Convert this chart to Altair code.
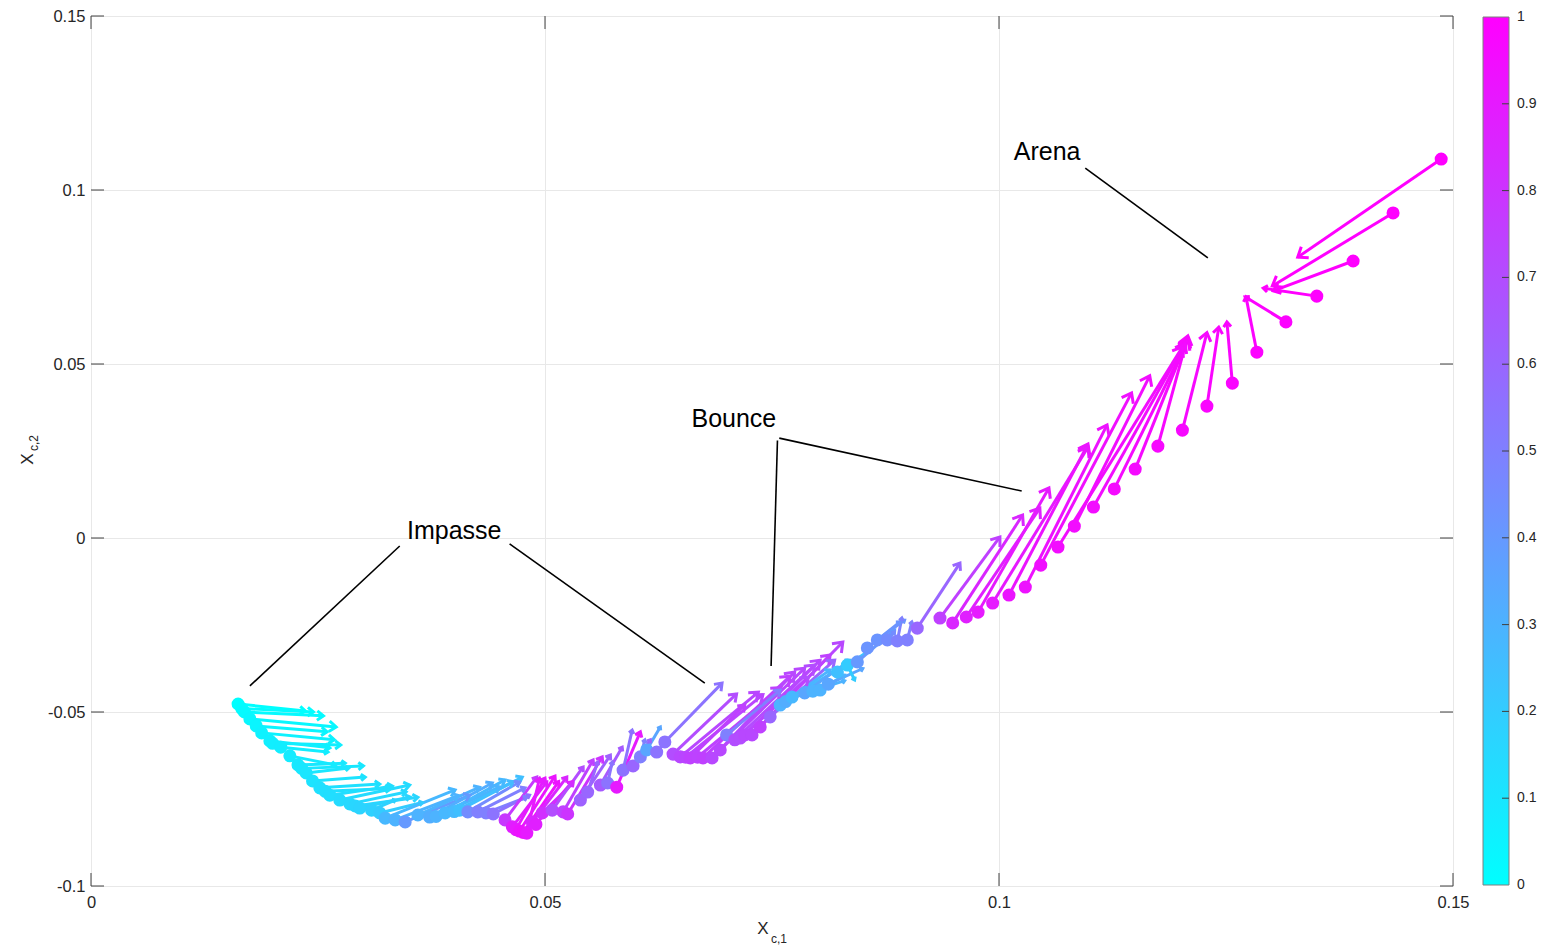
import altair as alt
import pandas as pd

# ---- quiver data (start point, arrow end, colour value) ----
x0 = [0.0162, 0.0166, 0.0169, 0.0175, 0.0182, 0.0188, 0.0197, 0.0200, 0.0209, 0.0219,
      0.0228, 0.0232, 0.0237, 0.0244, 0.0252, 0.0258, 0.0263, 0.0274, 0.0285, 0.0291,
      0.0296, 0.0309, 0.0318,
      0.0324, 0.0335, 0.0346, 0.0360, 0.0373, 0.0380, 0.0390, 0.0400, 0.0406, 0.0415,
      0.0426, 0.0435, 0.0443, 0.0456, 0.0464, 0.0468, 0.0472, 0.0476, 0.0480, 0.0486,
      0.0490, 0.0497, 0.0508, 0.0520, 0.0525, 0.0539, 0.0547, 0.0561, 0.0569, 0.0579,
      0.0586, 0.0597, 0.0605, 0.0612, 0.0623, 0.0632, 0.0641, 0.0649, 0.0655, 0.0660,
      0.0668, 0.0674, 0.0684, 0.0693, 0.0700, 0.0709, 0.0715, 0.0720, 0.0728, 0.0737,
      0.0748,
      0.0759, 0.0765, 0.0772, 0.0786, 0.0795, 0.0803, 0.0812, 0.0822, 0.0833, 0.0844,
      0.0855, 0.0866, 0.0877, 0.0888, 0.0899, 0.0910, 0.0935, 0.0949, 0.0964, 0.0977,
      0.0993, 0.1011, 0.1029, 0.1046, 0.1065, 0.1083, 0.1104, 0.1127, 0.1150, 0.1175,
      0.1202, 0.1229, 0.1257, 0.1284, 0.1316, 0.1350, 0.1390, 0.1434, 0.1487]
y0 = [-0.0477, -0.0490, -0.0500, -0.0520, -0.0540, -0.0560, -0.0583, -0.0590, -0.0601, -0.0626,
      -0.0652, -0.0662, -0.0675, -0.0698, -0.0718, -0.0728, -0.0739, -0.0753, -0.0764, -0.0770,
      -0.0776, -0.0782, -0.0790,
      -0.0805, -0.0810, -0.0816, -0.0796, -0.0802, -0.0800, -0.0790, -0.0786, -0.0782, -0.0787,
      -0.0787, -0.0790, -0.0793, -0.0810, -0.0830, -0.0838, -0.0842, -0.0846, -0.0848, -0.0816,
      -0.0823, -0.0790, -0.0782, -0.0787, -0.0793, -0.0753, -0.0730, -0.0710, -0.0704, -0.0716,
      -0.0667, -0.0655, -0.0629, -0.0609, -0.0615, -0.0586, -0.0621, -0.0629, -0.0630, -0.0632,
      -0.0630, -0.0632, -0.0632, -0.0609, -0.0566, -0.0580, -0.0575, -0.0566, -0.0566, -0.0543,
      -0.0514,
      -0.0480, -0.0470, -0.0457, -0.0445, -0.0440, -0.0437, -0.0420, -0.0385, -0.0365, -0.0356,
      -0.0316, -0.0293, -0.0293, -0.0296, -0.0293, -0.0259, -0.0230, -0.0244, -0.0227, -0.0213,
      -0.0187, -0.0164, -0.0141, -0.0078, -0.0026, 0.0034, 0.0089, 0.0141, 0.0198, 0.0264,
      0.0310, 0.0379, 0.0445, 0.0534, 0.0621, 0.0695, 0.0796, 0.0934, 0.1089]
x1 = [0.0236, 0.0245, 0.0256, 0.0270, 0.0260, 0.0268, 0.0263, 0.0275, 0.0261, 0.0269,
      0.0280, 0.0300, 0.0284, 0.0302, 0.0318, 0.0330, 0.0332, 0.0351, 0.0347, 0.0360,
      0.0351, 0.0335, 0.0365,
      0.0401, 0.0405, 0.0417, 0.0428, 0.0442, 0.0450, 0.0456, 0.0465, 0.0475, 0.0472,
      0.0478, 0.0480, 0.0483, 0.0491, 0.0502, 0.0500, 0.0511, 0.0515, 0.0494, 0.0524,
      0.0530, 0.0531, 0.0542, 0.0553, 0.0563, 0.0572, 0.0558, 0.0585, 0.0574, 0.0605,
      0.0596, 0.0616, 0.0610, 0.0627, 0.0635, 0.0695, 0.0711, 0.0735, 0.0740, 0.0720,
      0.0760, 0.0770, 0.0775, 0.0786, 0.0759, 0.0797, 0.0790, 0.0803, 0.0828, 0.0814,
      0.0819,
      0.0814, 0.0800, 0.0825, 0.0836, 0.0830, 0.0830, 0.0850, 0.0858, 0.0841, 0.0885,
      0.0891, 0.0896, 0.0885, 0.0893, 0.0904, 0.0957, 0.1001, 0.1026, 0.1045, 0.1055,
      0.1098, 0.1098, 0.1119, 0.1146, 0.1202, 0.1166, 0.1205, 0.1208, 0.1208, 0.1208,
      0.1229, 0.1242, 0.1251, 0.1272, 0.1271, 0.1291, 0.1302, 0.1301, 0.1329]
y1 = [-0.0497, -0.0500, -0.0511, -0.0543, -0.0557, -0.0580, -0.0603, -0.0595, -0.0615, -0.0652,
      -0.0647, -0.0655, -0.0661, -0.0687, -0.0707, -0.0720, -0.0713, -0.0710, -0.0730, -0.0745,
      -0.0744, -0.0753, -0.0760,
      -0.0724, -0.0740, -0.0739, -0.0716, -0.0704, -0.0715, -0.0695, -0.0700, -0.0687, -0.0701,
      -0.0718, -0.0745, -0.0739, -0.0687, -0.0701, -0.0690, -0.0684, -0.0700, -0.0690, -0.0687,
      -0.0700, -0.0704, -0.0658, -0.0638, -0.0629, -0.0624, -0.0644, -0.0601, -0.0644, -0.0557,
      -0.0552, -0.0580, -0.0580, -0.0543, -0.0580, -0.0417, -0.0448, -0.0443, -0.0450, -0.0480,
      -0.0430, -0.0397, -0.0385, -0.0374, -0.0437, -0.0365, -0.0400, -0.0351, -0.0299, -0.0336,
      -0.0351,
      -0.0379, -0.0430, -0.0374, -0.0351, -0.0410, -0.0394, -0.0375, -0.0322, -0.0408, -0.0264,
      -0.0241, -0.0236, -0.0270, -0.0230, -0.0241, -0.0072, 0.0003, 0.0066, 0.0086, 0.0144,
      0.0261, 0.0270, 0.0325, 0.0417, 0.0549, 0.0466, 0.0560, 0.0569, 0.0575, 0.0581,
      0.0590, 0.0606, 0.0621, 0.0693, 0.0693, 0.0718, 0.0710, 0.0724, 0.0807]
cval = [0.00, 0.01, 0.02, 0.03, 0.04, 0.05, 0.06, 0.065, 0.07, 0.08,
        0.09, 0.095, 0.10, 0.11, 0.12, 0.125, 0.13, 0.14, 0.15, 0.16,
        0.17, 0.18, 0.20,
        0.28, 0.30, 0.40, 0.30, 0.32, 0.30, 0.28, 0.27, 0.25, 0.45,
        0.50, 0.50, 0.55, 0.78, 0.88, 0.90, 0.92, 0.93, 0.90, 0.85,
        0.88, 0.82, 0.70, 0.75, 0.80, 0.62, 0.60, 0.65, 0.55, 0.90,
        0.55, 0.60, 0.50, 0.35, 0.55, 0.55, 0.70, 0.72, 0.73, 0.75,
        0.74, 0.75, 0.72, 0.72, 0.50, 0.70, 0.70, 0.72, 0.72, 0.75,
        0.60,
        0.30, 0.32, 0.28, 0.35, 0.30, 0.30, 0.35, 0.25, 0.20, 0.40,
        0.42, 0.42, 0.45, 0.50, 0.50, 0.60, 0.75, 0.85, 0.88, 0.90,
        0.90, 0.92, 0.93, 0.94, 0.95, 0.95, 0.95, 0.96, 0.96, 0.97,
        0.97, 0.98, 0.98, 0.99, 0.99, 1.00, 1.00, 1.00, 1.00]

# ---- annotations ----
ann_text = ["Arena", "Bounce", "Impasse"]
ann_tx = [0.1053, 0.0708, 0.0400]
ann_ty = [0.1109, 0.0342, 0.0020]
line_x0 = [0.1095, 0.0758, 0.0756, 0.0340, 0.0461]
line_y0 = [0.1063, 0.0287, 0.0280, -0.0023, -0.0017]
line_x1 = [0.1230, 0.1025, 0.0749, 0.0175, 0.0676]
line_y1 = [0.0805, 0.0135, -0.0368, -0.0425, -0.0417]

x_ticks = [0, 0.05, 0.1, 0.15]
y_ticks = [-0.1, -0.05, 0, 0.05, 0.1, 0.15]
c_ticks = [0, 0.1, 0.2, 0.3, 0.4, 0.5, 0.6, 0.7, 0.8, 0.9, 1]

W, H = 1362, 870
XD = [0, 0.15]
YD = [-0.1, 0.15]
FONT = "Liberation Sans"
C0, C1 = "#00ffff", "#ff00ff"

df = pd.DataFrame({"x0": x0, "y0": y0, "x1": x1, "y1": y1, "c": cval})
ann = pd.DataFrame({"t": ann_text, "x": ann_tx, "y": ann_ty})
lines = pd.DataFrame({"x0": line_x0, "y0": line_y0, "x1": line_x1, "y1": line_y1})

xs = alt.Scale(domain=XD, nice=False, zero=False)
ys = alt.Scale(domain=YD, nice=False, zero=False)
cs = alt.Scale(domain=[0, 1], range=[C0, C1], interpolate="rgb")

xaxis = alt.Axis(values=x_ticks, labelExpr="'' + datum.value", title=None, ticks=False,
                 domain=False, grid=True, gridColor="#e8e8e8", labelFontSize=16.5,
                 labelColor="#262626", labelFont=FONT, labelPadding=8, labelFlush=False)
yaxis = alt.Axis(values=y_ticks, labelExpr="'' + datum.value", title=None, ticks=False,
                 domain=False, grid=True, gridColor="#e8e8e8", labelFontSize=16.5,
                 labelColor="#262626", labelFont=FONT, labelPadding=6, labelFlush=False)

color = alt.Color("c:Q", scale=cs, legend=None)

base = alt.Chart(df)

shafts = base.mark_rule(strokeWidth=3).encode(
    x=alt.X("x0:Q", scale=xs, axis=xaxis),
    y=alt.Y("y0:Q", scale=ys, axis=yaxis),
    x2="x1:Q", y2="y1:Q",
    color=color,
)

heads = base.transform_calculate(
    dxs=f"(datum.x1 - datum.x0) * {W / (XD[1] - XD[0])}",
    dys=f"(datum.y1 - datum.y0) * {H / (YD[1] - YD[0])}",
).transform_calculate(
    ln="sqrt(datum.dxs * datum.dxs + datum.dys * datum.dys)",
    ang="(atan2(datum.dxs, datum.dys) * 180 / PI + 360) % 360",
).transform_calculate(
    sz="pow(2 * clamp(0.1 * datum.ln, 3.5, 11), 2)"
).mark_point(shape="M-0.6,0.8L0,0L0.6,0.8", filled=False, strokeWidth=3,
             opacity=1, strokeJoin="miter").encode(
    x=alt.X("x1:Q", scale=xs),
    y=alt.Y("y1:Q", scale=ys),
    angle=alt.Angle("ang:Q", scale=None),
    size=alt.Size("sz:Q", scale=None),
    color=color,
)

dots = base.mark_circle(size=170, opacity=1).encode(
    x=alt.X("x0:Q", scale=xs),
    y=alt.Y("y0:Q", scale=ys),
    color=color,
)

ann_lines = alt.Chart(lines).mark_rule(color="black", strokeWidth=1.6).encode(
    x=alt.X("x0:Q", scale=xs), y=alt.Y("y0:Q", scale=ys), x2="x1:Q", y2="y1:Q")

ann_txt = alt.Chart(ann).mark_text(fontSize=25, font=FONT, color="black",
                                   align="center", baseline="middle").encode(
    x=alt.X("x:Q", scale=xs), y=alt.Y("y:Q", scale=ys), text="t:N")

# inward ticks (MATLAB style box ticks)
xt = pd.DataFrame({"v": x_ticks})
yt = pd.DataFrame({"v": y_ticks})
tick_style = dict(color="#404040", strokeWidth=1)
xt_bot = alt.Chart(xt).mark_rule(**tick_style).encode(
    x=alt.X("v:Q", scale=xs), y=alt.value(H), y2=alt.value(H - 13))
xt_top = alt.Chart(xt).mark_rule(**tick_style).encode(
    x=alt.X("v:Q", scale=xs), y=alt.value(0), y2=alt.value(13))
yt_left = alt.Chart(yt).mark_rule(**tick_style).encode(
    y=alt.Y("v:Q", scale=ys), x=alt.value(0), x2=alt.value(13))
yt_right = alt.Chart(yt).mark_rule(**tick_style).encode(
    y=alt.Y("v:Q", scale=ys), x=alt.value(W), x2=alt.value(W - 13))

one = alt.Data(values=[{"k": 1}])
def label(txt, x, y, size, angle=0, align="center", baseline="alphabetic"):
    return alt.Chart(one).mark_text(text=txt, fontSize=size, font=FONT, color="#262626",
                                    angle=angle, align=align, baseline=baseline).encode(
        x=alt.value(x), y=alt.value(y))

titles = [
    label("X", 672, 918, 17),
    label("c,1", 680, 927, 12, align="left"),
    label("X", -58, 443, 17, angle=270),
    label("c,2", -53, 435, 12, angle=270, align="left"),
]

main = alt.layer(shafts, heads, dots, ann_lines, ann_txt, xt_bot, xt_top, yt_left, yt_right,
                 *titles)

# ---- colour bar drawn by hand (gradient rect + ticks + labels) ----
CB_L, CB_R = W + 30, W + 56
cbs = alt.Scale(domain=[0, 1], range=[H - 1, 1])
cbar_rect = alt.Chart(one).mark_rect(
    color=alt.Gradient(gradient="linear", stops=[alt.GradientStop(color=C0, offset=0),
                                                 alt.GradientStop(color=C1, offset=1)],
                       x1=0, x2=0, y1=1, y2=0),
    stroke="#7f7f7f", strokeWidth=1,
).encode(x=alt.value(CB_L), x2=alt.value(CB_R), y=alt.value(1), y2=alt.value(H - 1))

ct = pd.DataFrame({"v": c_ticks})
cbar_ticks = alt.Chart(pd.DataFrame({"v": c_ticks[1:-1]})).mark_rule(
    color="#404040", strokeWidth=1).encode(
    y=alt.Y("v:Q", scale=cbs, axis=None),
    x=alt.value(CB_R - 7), x2=alt.value(CB_R),
)
cbar_labels = alt.Chart(ct).transform_calculate(lab="'' + datum.v").mark_text(
    font=FONT, fontSize=14, color="#262626", align="left", baseline="middle").encode(
    y=alt.Y("v:Q", scale=cbs, axis=None),
    x=alt.value(CB_R + 8),
    text="lab:N",
)
cbar = alt.layer(cbar_rect, cbar_ticks, cbar_labels)

chart = alt.layer(main, cbar).resolve_scale(y="independent").properties(
    width=W, height=H,
    autosize=alt.AutoSizeParams(type="none"),
    padding={"left": 91, "top": 16, "right": 88, "bottom": 62},
).configure_view(stroke="#7f7f7f", strokeWidth=1).configure(background="white")

chart.save("out.html", embed_options={"renderer": "svg", "actions": False})
